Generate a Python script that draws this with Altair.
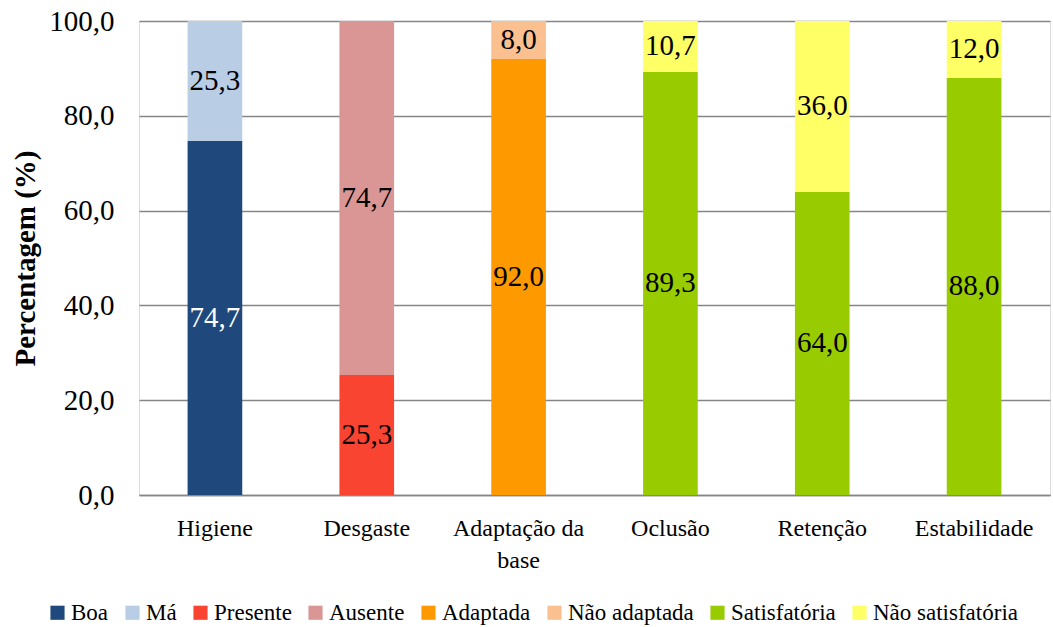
import altair as alt
import pandas as pd

# Categorias avaliadas e percentagens (segmento inferior / superior de cada barra)
categorias = ["Higiene", "Desgaste", "Adaptação da base", "Oclusão", "Retenção", "Estabilidade"]
serie_inferior = ["Boa", "Presente", "Adaptada", "Satisfatória", "Satisfatória", "Satisfatória"]
serie_superior = ["Má", "Ausente", "Não adaptada", "Não satisfatória", "Não satisfatória", "Não satisfatória"]
valor_inferior = [74.7, 25.3, 92.0, 89.3, 64.0, 88.0]
valor_superior = [25.3, 74.7, 8.0, 10.7, 36.0, 12.0]

legenda = ["Boa", "Má", "Presente", "Ausente", "Adaptada", "Não adaptada",
           "Satisfatória", "Não satisfatória"]
cores = ["#1F497D", "#B9CDE5", "#F94432", "#D99694", "#FF9900", "#FAC090",
         "#99CC00", "#FFFF66"]

linhas = []
for c, si, ss, vi, vs in zip(categorias, serie_inferior, serie_superior, valor_inferior, valor_superior):
    linhas.append({"categoria": c, "serie": si, "valor": vi, "ordem": 0})
    linhas.append({"categoria": c, "serie": ss, "valor": vs, "ordem": 1})
df = pd.DataFrame(linhas)

FONTE = "Liberation Serif"

x_enc = alt.X(
    "categoria:N", sort=categorias, title=None,
    scale=alt.Scale(paddingInner=0.64, paddingOuter=0.32),
    axis=alt.Axis(
        labelAngle=0, labelFont=FONTE, labelFontSize=24, labelColor="black",
        labelPadding=21, labelLineHeight=32, ticks=False, labelLimit=200,
        domainColor="#868686", domainWidth=1.5,
        labelExpr="datum.label == 'Adaptação da base' ? ['Adaptação da', 'base'] : datum.label",
    ),
)

base = alt.Chart(df).transform_stack(
    stack="valor", groupby=["categoria"], as_=["v0", "v1"],
    sort=[alt.SortField("ordem", order="ascending")],
).transform_calculate(
    meio="(datum.v0 + datum.v1) / 2",
    rotulo="replace(format(datum.valor, '.1f'), '.', ',')",
    cor_texto="datum.serie == 'Boa' ? 'white' : 'black'",
)

barras = base.mark_bar().encode(
    x=x_enc,
    y=alt.Y(
        "v0:Q", title="Percentagem (%)",
        scale=alt.Scale(domain=[0, 100]),
        axis=alt.Axis(
            values=[0, 20, 40, 60, 80, 100],
            labelExpr="replace(format(datum.value, '.1f'), '.', ',')",
            labelFont=FONTE, labelFontSize=29, labelColor="black", labelPadding=25,
            ticks=False, domain=False,
            grid=True, gridColor="#868686", gridWidth=1.5,
            titleFont=FONTE, titleFontSize=29, titleFontWeight="bold", titleColor="black",
            titleX=-114, titleY=237, titleAngle=-90, titleAlign="center",
            titleBaseline="middle",
        ),
    ),
    y2="v1:Q",
    color=alt.Color(
        "serie:N",
        scale=alt.Scale(domain=legenda, range=cores),
        legend=alt.Legend(
            title=None, orient="none", legendX=-93, legendY=580,
            direction="horizontal", columns=8, symbolType="square",
            symbolSize=200, symbolStrokeWidth=0, labelFont=FONTE,
            labelFontSize=23, labelColor="black", labelOffset=2,
            columnPadding=12, labelLimit=300,
        ),
    ),
)

rotulos = base.mark_text(font=FONTE, fontSize=29, baseline="middle").encode(
    x=alt.X("categoria:N", sort=categorias),
    y=alt.Y("meio:Q"),
    text="rotulo:N",
    color=alt.Color("cor_texto:N", scale=None),
)

chart = alt.layer(barras, rotulos).properties(
    width=911, height=474,
    padding={"left": 139, "top": 21, "right": 3, "bottom": 132},
    autosize="none",
).configure_view(stroke=None).configure(background="white")

chart.save("out.html", embed_options={"renderer": "svg", "actions": False})
